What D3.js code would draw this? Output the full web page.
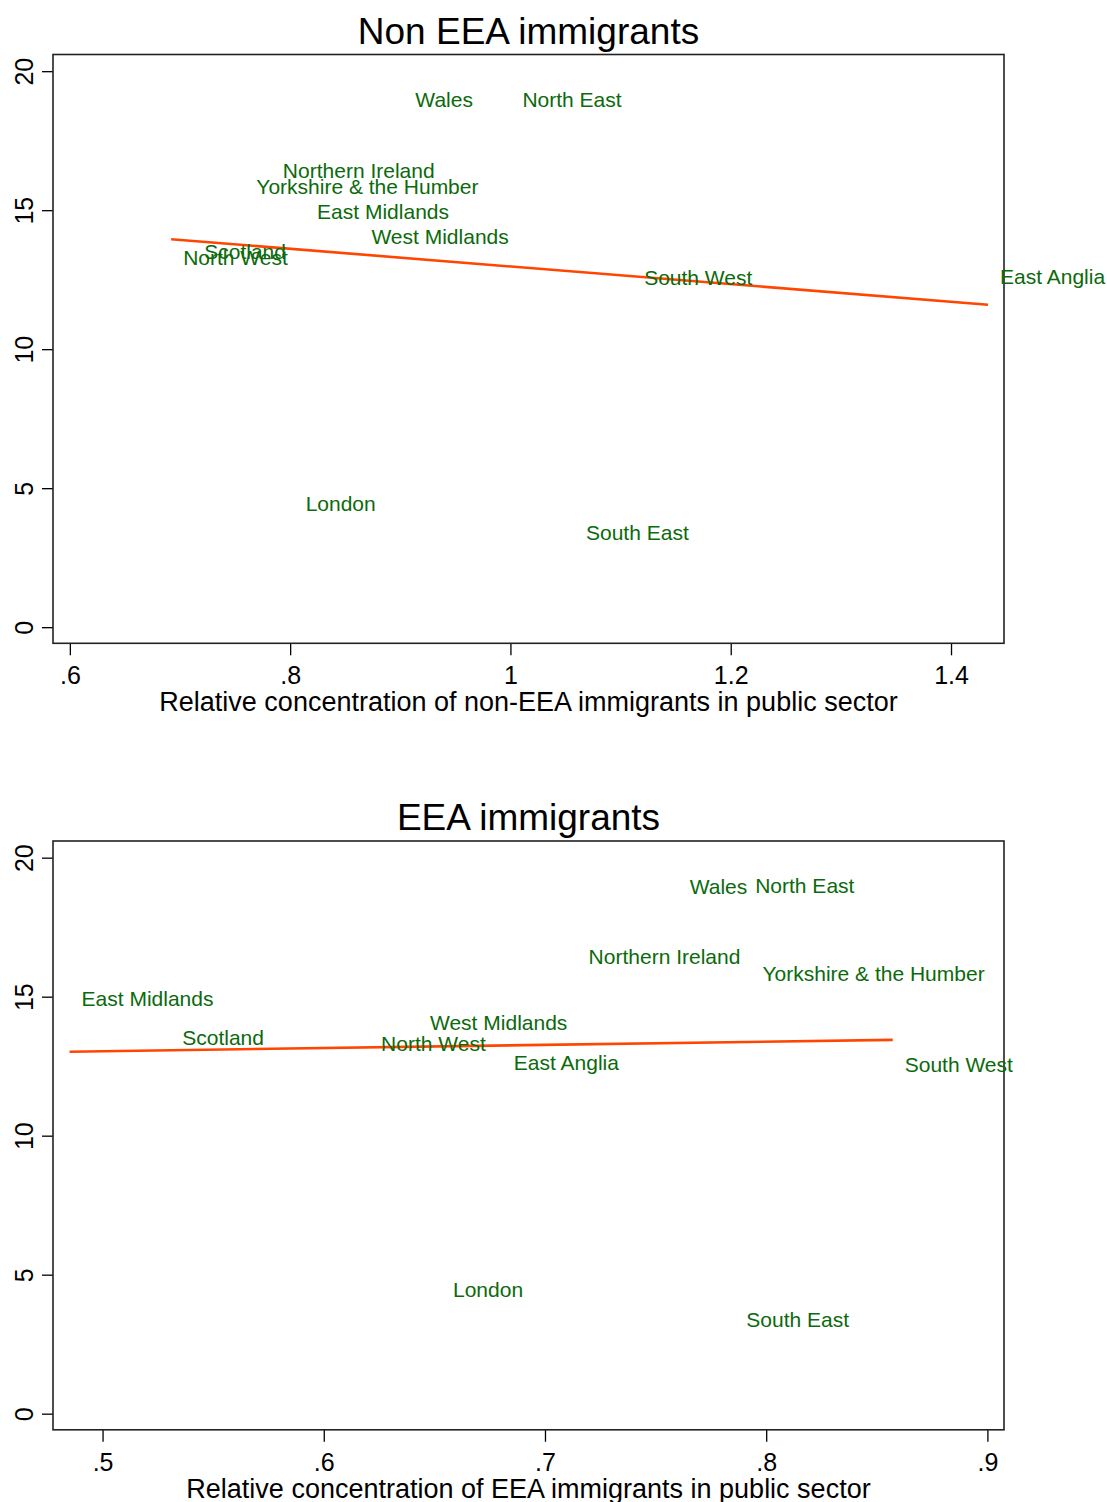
<!DOCTYPE html>
<html>
<head>
<meta charset="utf-8">
<script src="https://cdn.jsdelivr.net/npm/d3@7"></script>
<style>
  html, body { margin: 0; padding: 0; background: #ffffff; }
  svg { display: block; }
  text { font-family: "Liberation Sans", Arial, Helvetica, sans-serif; }
</style>
</head>
<body>
<script>
// Regions of the UK
const regions = [
  "North East", "North West", "Yorkshire & the Humber", "East Midlands",
  "West Midlands", "East Anglia", "London", "South East", "South West",
  "Wales", "Scotland", "Northern Ireland"
];

// Relative concentration of non-EEA immigrants in the public sector
const nonEeaConcentration = [
  1.000, 0.692, 0.7584, 0.8136, 0.8629, 1.4336, 0.8032, 1.0577, 1.1105,
  0.9028, 0.7111, 0.7825
];

// Relative concentration of EEA immigrants in the public sector
const eeaConcentration = [
  0.7896, 0.6205, 0.7929, 0.4851, 0.6426, 0.6805, 0.653, 0.7856, 0.8572,
  0.760, 0.5306, 0.7143
];

// Outcome value per region (shared by both panels)
const outcome = [
  18.99, 13.31, 15.84, 14.94, 14.06, 12.63, 4.45, 3.39, 12.57,
  18.97, 13.52, 16.44
];

const yTicks = [0, 5, 10, 15, 20];
const nonEeaTicks = [0.6, 0.8, 1, 1.2, 1.4];
const eeaTicks = [0.5, 0.6, 0.7, 0.8, 0.9];

const panels = [
  {
    title: "Non EEA immigrants",
    xTitle: "Relative concentration of non-EEA immigrants in public sector",
    xs: nonEeaConcentration,
    xTicks: nonEeaTicks,
    xDomain: [0.5847, 1.4481],
    top: 54.5
  },
  {
    title: "EEA immigrants",
    xTitle: "Relative concentration of EEA immigrants in public sector",
    xs: eeaConcentration,
    xTicks: eeaTicks,
    xDomain: [0.4776, 0.9075],
    top: 841
  }
];

const W = 1107, H = 1502;
const frameLeft = 53, frameRight = 1004, frameH = 588.8;
const yDomain = [-0.58, 20.6];
const labelColor = "#0b6a0b";
const fitColor = "#ff4500";
const fmt = d => String(d).replace(/^0\./, ".");

const svg = d3.select("body").append("svg")
  .attr("width", W).attr("height", H);

function linearFit(xs, ys) {
  const mx = d3.mean(xs), my = d3.mean(ys);
  let sxy = 0, sxx = 0;
  xs.forEach((x, i) => { sxy += (x - mx) * (ys[i] - my); sxx += (x - mx) * (x - mx); });
  const b = sxy / sxx;
  return { b, a: my - b * mx };
}

panels.forEach(p => {
  const g = svg.append("g").attr("transform", `translate(${frameLeft},${p.top})`);
  const w = frameRight - frameLeft;
  const x = d3.scaleLinear().domain(p.xDomain).range([0, w]);
  const y = d3.scaleLinear().domain(yDomain).range([frameH, 0]);

  // title
  g.append("text")
    .attr("x", w / 2).attr("y", -11)
    .attr("text-anchor", "middle")
    .attr("font-size", 37)
    .attr("fill", "#000")
    .text(p.title);

  // y axis
  const yAxis = g.append("g").call(
    d3.axisLeft(y).tickValues(yTicks).tickSize(11).tickFormat(fmt)
  );
  yAxis.select(".domain").remove();
  yAxis.selectAll(".tick line").attr("stroke", "#000").attr("stroke-width", 1.3);
  yAxis.selectAll(".tick text")
    .attr("x", null).attr("dy", null)
    .attr("transform", "translate(-20,0) rotate(-90)")
    .attr("text-anchor", "middle")
    .attr("font-size", 25)
    .attr("fill", "#000");

  // x axis
  const xAxis = g.append("g").attr("transform", `translate(0,${frameH})`).call(
    d3.axisBottom(x).tickValues(p.xTicks).tickSize(12).tickFormat(fmt)
  );
  xAxis.select(".domain").remove();
  xAxis.selectAll(".tick line").attr("stroke", "#000").attr("stroke-width", 1.3);
  xAxis.selectAll(".tick text")
    .attr("y", 41).attr("dy", null)
    .attr("font-size", 25)
    .attr("fill", "#000");

  // x axis title
  g.append("text")
    .attr("x", w / 2).attr("y", frameH + 68)
    .attr("text-anchor", "middle")
    .attr("font-size", 27)
    .attr("fill", "#000")
    .text(p.xTitle);

  // plot region frame
  g.append("rect")
    .attr("x", 0).attr("y", 0).attr("width", w).attr("height", frameH)
    .attr("fill", "none").attr("stroke", "#222").attr("stroke-width", 1.6);

  // fitted regression line over the range of the data
  const fit = linearFit(p.xs, outcome);
  const xExt = d3.extent(p.xs);
  g.append("line")
    .attr("x1", x(xExt[0])).attr("y1", y(fit.a + fit.b * xExt[0]))
    .attr("x2", x(xExt[1])).attr("y2", y(fit.a + fit.b * xExt[1]))
    .attr("stroke", fitColor).attr("stroke-width", 2.6);

  // region labels placed to the right of each point
  g.selectAll("text.region")
    .data(regions.map((name, i) => ({ name, xv: p.xs[i], yv: outcome[i] })))
    .join("text")
    .attr("class", "region")
    .attr("x", d => x(d.xv) + 12)
    .attr("y", d => y(d.yv) + 7.5)
    .attr("font-size", 21)
    .attr("fill", labelColor)
    .text(d => d.name);
});
</script>
</body>
</html>
